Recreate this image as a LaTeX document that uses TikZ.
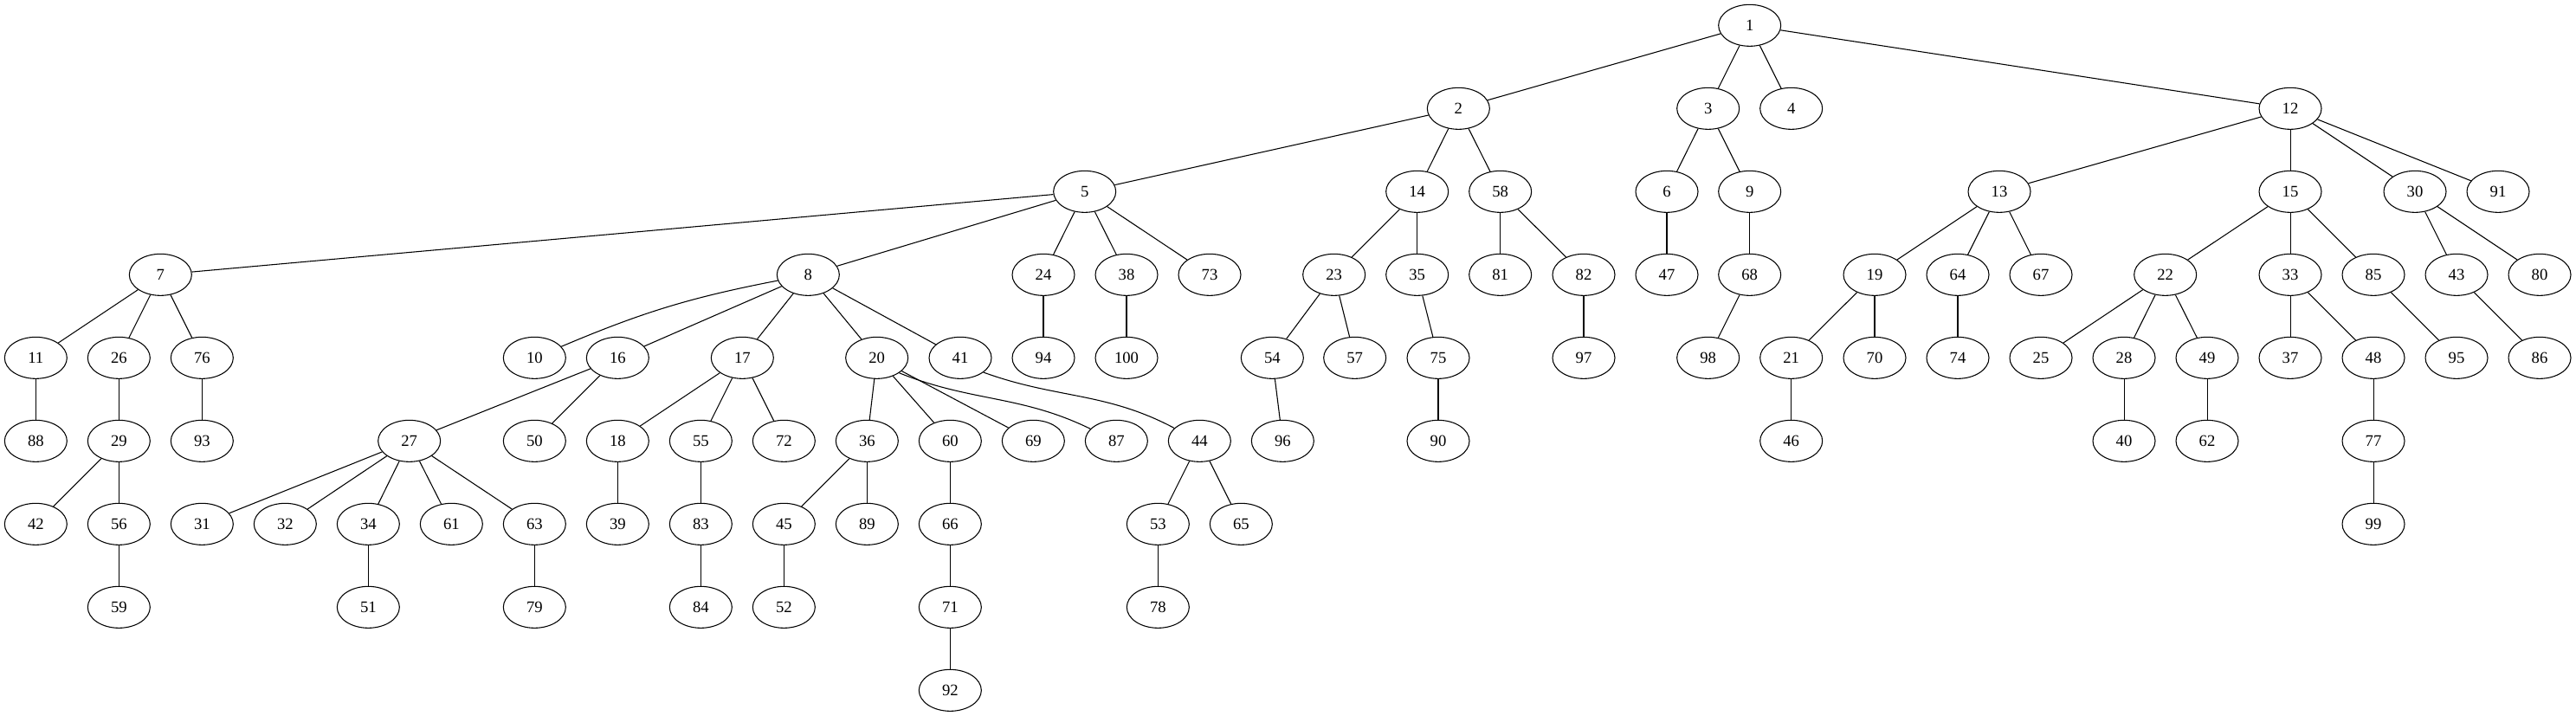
\documentclass[tikz,border=0pt]{standalone}
\usepackage{fontspec}
\setmainfont{Liberation Serif}
\usetikzlibrary{shapes.geometric}
\begin{document}
\begin{tikzpicture}[x=1pt,y=-1pt,
  nd/.style={draw,ellipse,minimum width=54pt,minimum height=36pt,inner sep=0pt,line width=0.8pt,font=\fontsize{14}{16}\selectfont},
  every path/.style={line width=0.8pt}]
\useasboundingbox (0,0) rectangle (2231.25,620.25);
% level 0
\node[nd] (n1) at (1515.5,22) {1};
% level 1
\node[nd] (n2) at (1263.25,94) {2};
\node[nd] (n3) at (1479.5,94) {3};
\node[nd] (n4) at (1551.5,94) {4};
\node[nd] (n12) at (1983.75,94) {12};
% level 2
\node[nd] (n5) at (939.5,166) {5};
\node[nd] (n14) at (1227.5,166) {14};
\node[nd] (n58) at (1299.5,166) {58};
\node[nd] (n6) at (1443.75,166) {6};
\node[nd] (n9) at (1515.5,166) {9};
\node[nd] (n13) at (1731.75,166) {13};
\node[nd] (n15) at (1983.75,166) {15};
\node[nd] (n30) at (2091.75,166) {30};
\node[nd] (n91) at (2163.75,166) {91};
% level 3
\node[nd] (n7) at (139,238) {7};
\node[nd] (n8) at (700,238) {8};
\node[nd] (n24) at (903.75,238) {24};
\node[nd] (n38) at (975.75,238) {38};
\node[nd] (n73) at (1047.75,238) {73};
\node[nd] (n23) at (1155.5,238) {23};
\node[nd] (n35) at (1227.5,238) {35};
\node[nd] (n81) at (1299.5,238) {81};
\node[nd] (n82) at (1371.75,238) {82};
\node[nd] (n47) at (1443.75,238) {47};
\node[nd] (n68) at (1515.5,238) {68};
\node[nd] (n19) at (1623.75,238) {19};
\node[nd] (n64) at (1695.75,238) {64};
\node[nd] (n67) at (1767.75,238) {67};
\node[nd] (n22) at (1875.5,238) {22};
\node[nd] (n33) at (1983.75,238) {33};
\node[nd] (n85) at (2055.75,238) {85};
\node[nd] (n43) at (2127.75,238) {43};
\node[nd] (n80) at (2199.75,238) {80};
% level 4
\node[nd] (n11) at (31,310) {11};
\node[nd] (n26) at (103,310) {26};
\node[nd] (n76) at (175,310) {76};
\node[nd] (n10) at (463,310) {10};
\node[nd] (n16) at (535,310) {16};
\node[nd] (n17) at (643,310) {17};
\node[nd] (n20) at (759.5,310) {20};
\node[nd] (n41) at (831.75,310) {41};
\node[nd] (n94) at (903.75,310) {94};
\node[nd] (n100) at (975.75,310) {100};
\node[nd] (n54) at (1102,310) {54};
\node[nd] (n57) at (1173.5,310) {57};
\node[nd] (n75) at (1245.75,310) {75};
\node[nd] (n97) at (1371.75,310) {97};
\node[nd] (n98) at (1479.5,310) {98};
\node[nd] (n21) at (1551.5,310) {21};
\node[nd] (n70) at (1623.75,310) {70};
\node[nd] (n74) at (1695.75,310) {74};
\node[nd] (n25) at (1767.75,310) {25};
\node[nd] (n28) at (1839.75,310) {28};
\node[nd] (n49) at (1911.75,310) {49};
\node[nd] (n37) at (1983.75,310) {37};
\node[nd] (n48) at (2055.75,310) {48};
\node[nd] (n95) at (2127.75,310) {95};
\node[nd] (n86) at (2199.75,310) {86};
% level 5
\node[nd] (n88) at (31,382) {88};
\node[nd] (n29) at (103,382) {29};
\node[nd] (n93) at (175,382) {93};
\node[nd] (n27) at (354.5,382) {27};
\node[nd] (n50) at (463,382) {50};
\node[nd] (n18) at (535,382) {18};
\node[nd] (n55) at (607,382) {55};
\node[nd] (n72) at (679,382) {72};
\node[nd] (n36) at (751,382) {36};
\node[nd] (n60) at (823,382) {60};
\node[nd] (n69) at (895,382) {69};
\node[nd] (n87) at (967,382) {87};
\node[nd] (n44) at (1039,382) {44};
\node[nd] (n96) at (1111,382) {96};
\node[nd] (n90) at (1245.75,382) {90};
\node[nd] (n46) at (1551.5,382) {46};
\node[nd] (n40) at (1839.75,382) {40};
\node[nd] (n62) at (1911.75,382) {62};
\node[nd] (n77) at (2055.75,382) {77};
% level 6
\node[nd] (n42) at (31,454) {42};
\node[nd] (n56) at (103,454) {56};
\node[nd] (n31) at (175,454) {31};
\node[nd] (n32) at (247,454) {32};
\node[nd] (n34) at (319,454) {34};
\node[nd] (n61) at (391,454) {61};
\node[nd] (n63) at (463,454) {63};
\node[nd] (n39) at (535,454) {39};
\node[nd] (n83) at (607,454) {83};
\node[nd] (n45) at (679,454) {45};
\node[nd] (n89) at (751,454) {89};
\node[nd] (n66) at (823,454) {66};
\node[nd] (n53) at (1003,454) {53};
\node[nd] (n65) at (1075,454) {65};
\node[nd] (n99) at (2055.75,454) {99};
% level 7
\node[nd] (n59) at (103,526) {59};
\node[nd] (n51) at (319,526) {51};
\node[nd] (n79) at (463,526) {79};
\node[nd] (n84) at (607,526) {84};
\node[nd] (n52) at (679,526) {52};
\node[nd] (n71) at (823,526) {71};
\node[nd] (n78) at (1003,526) {78};
% level 8
\node[nd] (n92) at (823,598) {92};
% edges
\foreach \a/\b in {1/2,1/3,1/4,1/12,2/5,2/14,2/58,3/6,3/9,12/13,12/15,12/30,12/91,
  5/7,5/8,5/24,5/38,5/73,14/23,14/35,58/81,58/82,6/47,9/68,13/19,13/64,13/67,
  15/22,15/33,15/85,30/43,30/80,7/11,7/26,7/76,8/16,8/17,8/20,8/41,
  24/94,38/100,23/54,23/57,35/75,82/97,68/98,19/21,19/70,64/74,22/25,22/28,22/49,
  33/37,33/48,85/95,43/86,11/88,26/29,76/93,16/27,16/50,17/18,17/55,17/72,
  20/36,20/60,20/69,54/96,75/90,21/46,28/40,49/62,48/77,29/42,29/56,
  27/31,27/32,27/34,27/61,27/63,18/39,55/83,36/45,36/89,60/66,44/53,44/65,77/99,
  56/59,34/51,63/79,83/84,45/52,66/71,53/78,71/92}
  \draw (n\a) -- (n\b);
\draw (n8) to[bend right=6] (n10);
\draw (n20.-34) to[out=-22,in=154] (n87.155);
\draw (n41.-32) to[out=-20,in=152] (n44.153);
\end{tikzpicture}
\end{document}
